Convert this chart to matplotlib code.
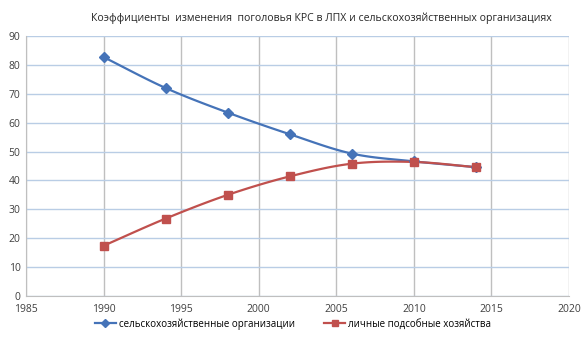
import numpy as np
import matplotlib
matplotlib.use("Agg")
from matplotlib import pyplot as plt

years = [1990, 1994, 1998, 2002, 2006, 2010, 2014]
agri_orgs = [82.7, 72.0, 63.5, 56.0, 49.3, 46.6, 44.6]
households = [17.4, 26.8, 35.0, 41.4, 45.8, 46.4, 44.6]

title = "Коэффициенты  изменения  поголовья КРС в ЛПХ и сельскохозяйственных организациях"
label_agri = "сельскохозяйственные организации"
label_hh = "личные подсобные хозяйства"

plt.rcParams['font.family'] = ['Open Sans', 'DejaVu Sans']


def smooth(x, y, n=20):
    # catmull-rom style curve through the points, like excel smoothed lines
    x = np.asarray(x, float)
    y = np.asarray(y, float)
    px = np.concatenate([[2 * x[0] - x[1]], x, [2 * x[-1] - x[-2]]])
    py = np.concatenate([[2 * y[0] - y[1]], y, [2 * y[-1] - y[-2]]])
    xs, ys = [], []
    t = np.linspace(0, 1, n)
    for i in range(1, len(px) - 2):
        for p, out in ((px, xs), (py, ys)):
            p0, p1, p2, p3 = p[i - 1], p[i], p[i + 1], p[i + 2]
            c = 0.5 * ((2 * p1) + (-p0 + p2) * t + (2 * p0 - 5 * p1 + 4 * p2 - p3) * t ** 2
                       + (-p0 + 3 * p1 - 3 * p2 + p3) * t ** 3)
            out.extend(c)
    return np.array(xs), np.array(ys)


fig = plt.figure(figsize=(5.86, 3.48), dpi=100)
ax = fig.add_axes([26 / 586, 1 - 296 / 348, (569 - 26) / 586, (296 - 36) / 348])

blue = '#4573b8'
red = '#c0504d'

sx, sy = smooth(years, agri_orgs)
ax.plot(sx, sy, color=blue, lw=1.6, zorder=3)
ax.plot(years, agri_orgs, 'D', color=blue, ms=5, zorder=4)
hx, hy = smooth(years, households)
ax.plot(hx, hy, color=red, lw=1.6, zorder=3)
ax.plot(years, households, 's', color=red, ms=6, zorder=4)

ax.plot([], [], color=blue, marker='D', ms=4, lw=1.6, label=label_agri)
ax.plot([], [], color=red, marker='s', ms=5, lw=1.6, label=label_hh)

ax.set_xlim(1985, 2020)
ax.set_ylim(0, 90)
ax.set_xticks(range(1985, 2021, 5))
ax.set_yticks(range(0, 91, 10))
ax.yaxis.grid(True, color='#b9cde5', lw=1)
ax.xaxis.grid(True, color='#bfbfbf', lw=1)
ax.set_axisbelow(True)
for s in ['top', 'right']:
    ax.spines[s].set_visible(False)
ax.spines['left'].set_color('#bfbfbf')
ax.spines['bottom'].set_color('#bfbfbf')
ax.tick_params(length=0, labelsize=7.5, colors='#404040', pad=4)
ax.tick_params(axis='x', pad=6)

fig.text(0.548, 1 - 18 / 348, title, ha='center', va='center', fontsize=7.6, color='#262626')
fig.legend(loc='center', bbox_to_anchor=(0.5, 1 - 324 / 348), ncol=2, frameon=False,
           fontsize=7, columnspacing=3, handlelength=2.2, handletextpad=0.3)

fig.savefig('out.png', dpi=100, facecolor='white')
